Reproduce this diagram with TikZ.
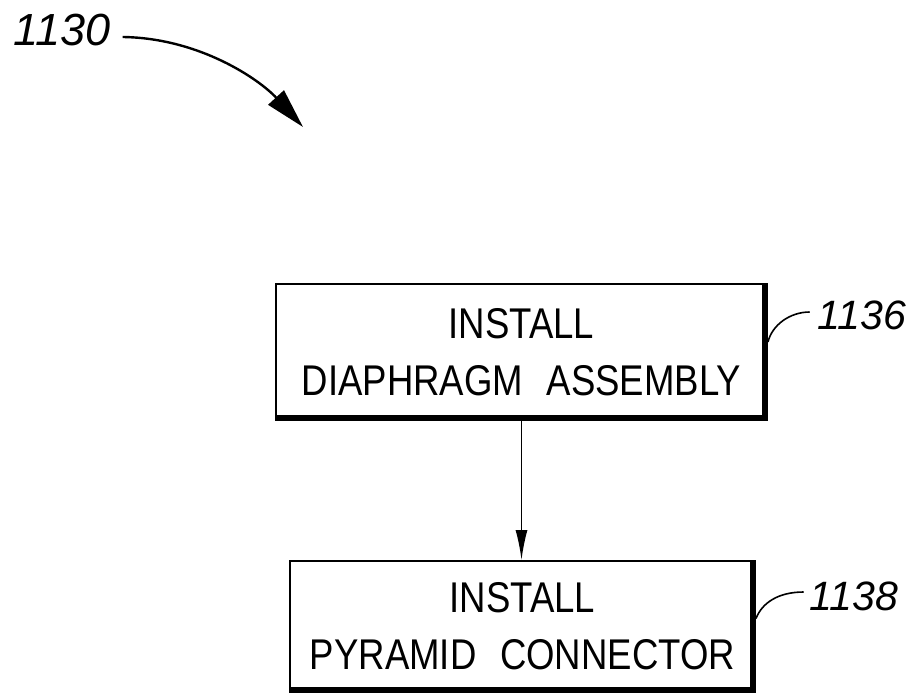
\documentclass[tikz,border=0pt]{standalone}
\usepackage{fontspec}
\setmainfont{Liberation Sans}[FakeStretch=0.85]
\newfontfamily\numfont{Liberation Sans}
\usetikzlibrary{arrows.meta,calc}
\begin{document}
\begin{tikzpicture}[x=1pt,y=-1pt,
  stepbox/.style={draw, line width=2pt, inner sep=0pt, align=center,
    font=\fontsize{43}{57}\selectfont},
  reflabel/.style={font=\numfont\itshape\fontsize{41}{41}\selectfont, inner sep=0pt},
  thickedge/.style={line width=6.5pt, line join=miter},
  leader/.style={line width=1.6pt},
  flow/.style={line width=1.6pt, -{Latex[length=30pt,width=12pt]}},
]
\useasboundingbox (0,0) rectangle (923,695);

% boxes
\node[stepbox, minimum width=491pt, minimum height=136pt] (b1) at (521.5,352)
  {INSTALL\\DIAPHRAGM\hspace{0.55em}ASSEMBLY};
\node[stepbox, minimum width=465pt, minimum height=131pt] (b2) at (522.5,626.5)
  {INSTALL\\PYRAMID\hspace{0.55em}CONNECTOR};

% thick right/bottom edges
\draw[thickedge] ($(b1.north east)+(-3,0)$) -- ($(b1.south east)+(-3,-3)$) -- ($(b1.south west)+(0,-3)$);
\draw[thickedge] ($(b2.north east)+(-3,0)$) -- ($(b2.south east)+(-3,-3)$) -- ($(b2.south west)+(0,-3)$);

% flow arrow
\draw[flow] (b1.south) -- (b1.south |- b2.north);

% reference labels
\node[reflabel] (l0) at (62,30) {\fontsize{45}{45}\selectfont 1130};
\node[reflabel] (l1) at (862,315) {1136};
\node[reflabel] (l2) at (854,596) {1138};

\coordinate (t0) at (303,127);
\draw[line width=2.4pt, -{Triangle[length=40pt,width=21pt]}]
  ($(l0.east)+(12,7)$) .. controls (200,38) and (260,80) .. (t0);

\draw[leader] ($(b1.east)+(0,-10)$) .. controls (772,325) and (790,312) .. ($(l1.west)+(-8,-3)$);
\draw[leader] ($(b2.east)+(0,-8)$) .. controls (762,603) and (778,592) .. ($(l2.west)+(-6,-4)$);
\end{tikzpicture}
\end{document}
